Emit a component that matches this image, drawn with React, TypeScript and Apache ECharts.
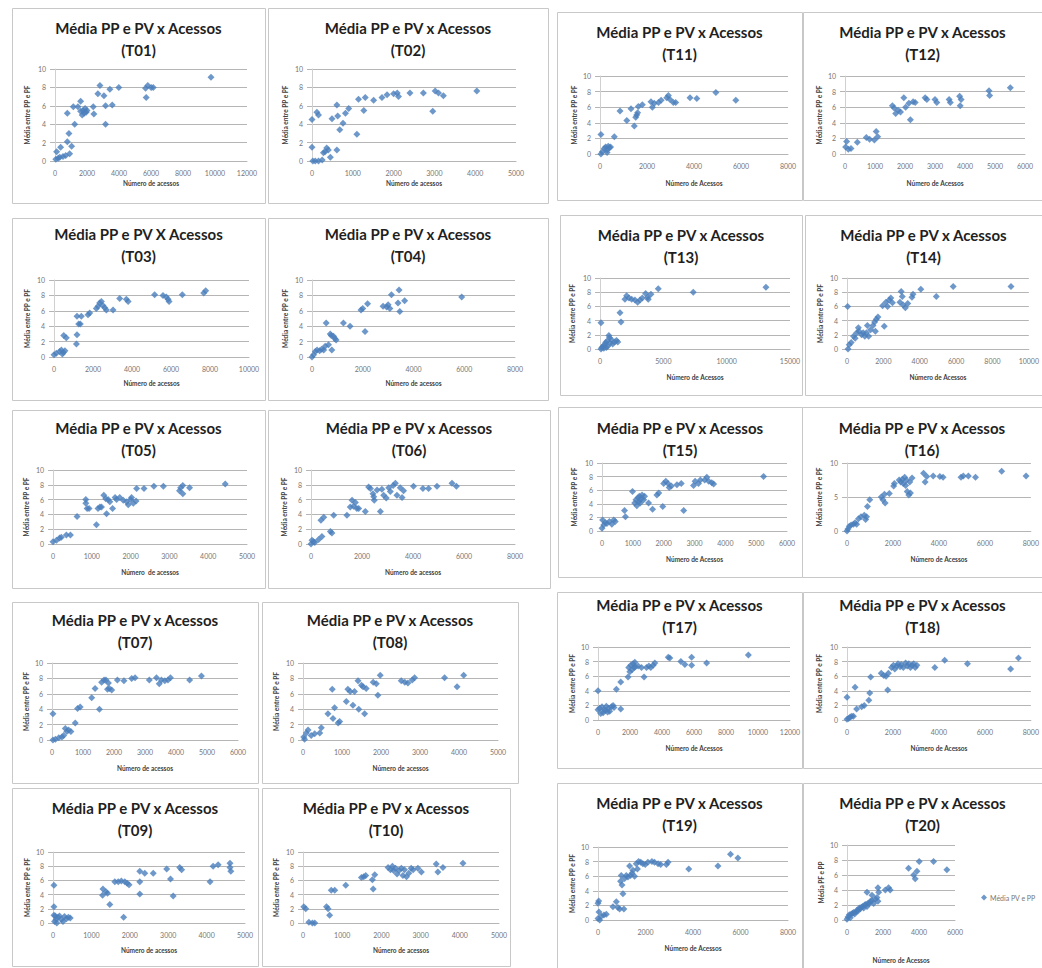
import React, { useEffect, useRef } from 'react';
import * as echarts from 'echarts';

type Pt = [number, number];

// ---- data: (número de acessos, média PP/PV) per turma ----
const t01: Pt[] = [[50,0.2],[100,1.0],[200,0.3],[300,0.4],[350,1.5],[500,0.5],[670,0.6],[770,2.1],[870,3.0],[915,0.8],[1040,1.6],[770,5.2],[1230,4.0],[1145,5.9],[1435,5.9],[1600,6.5],[1600,5.4],[1700,5.0],[1750,5.5],[1820,5.2],[1880,5.7],[1950,5.3],[2000,5.5],[2390,5.9],[2430,5.1],[2680,7.3],[2810,8.2],[3060,7.1],[3160,6.0],[3160,4.0],[3430,7.8],[3580,6.1],[3990,8.0],[5660,7.9],[5700,6.9],[5800,8.2],[6010,8.0],[6140,8.0],[9750,9.1]];
const t02: Pt[] = [[0,4.5],[0,1.5],[20,0],[80,0],[160,0],[250,0.1],[280,0.9],[320,1.0],[360,1.4],[400,1.2],[450,0.4],[120,5.3],[160,5.0],[490,4.6],[610,6.1],[630,4.9],[610,1.2],[680,3.4],[760,4.1],[820,5.2],[900,5.7],[1100,2.9],[1140,6.7],[1270,5.5],[1305,6.9],[1510,6.6],[1715,6.9],[1840,7.2],[2000,7.3],[2090,7.4],[2120,7.0],[2400,7.4],[2730,7.4],[2960,5.4],[3020,7.6],[3100,7.4],[3220,7.1],[4040,7.6]];
const t03: Pt[] = [[0,0.3],[120,0.5],[290,0.7],[380,0.9],[430,0.4],[480,0.6],[560,0.8],[500,2.8],[630,2.5],[1150,1.7],[1180,2.9],[1180,5.3],[1265,4.3],[1350,4.3],[1400,5.3],[1745,5.5],[1830,5.7],[2170,6.3],[2260,6.6],[2340,7.0],[2430,7.2],[2510,6.7],[2600,6.4],[2685,6.1],[3030,6.1],[3370,7.6],[3710,7.5],[3800,7.2],[5160,8.1],[5590,8.0],[5760,7.8],[5850,7.5],[5900,7.2],[6580,8.1],[7680,8.3],[7780,8.6]];
const t04: Pt[] = [[0,0],[65,0.3],[130,0.7],[200,0.9],[300,0.8],[380,1.0],[460,0.9],[520,1.4],[560,4.4],[650,1.6],[720,3.0],[760,2.8],[780,0.9],[850,2.7],[900,2.4],[950,2.2],[1240,4.4],[1500,4.0],[2090,3.3],[1930,6.1],[2000,6.3],[2190,6.9],[2800,6.6],[2940,6.5],[3000,6.8],[3070,6.3],[3130,8.1],[3430,8.7],[3390,7.0],[3460,5.9],[3650,7.3],[5900,7.8]];
const t05: Pt[] = [[0,0.3],[90,0.5],[170,0.8],[215,0.9],[345,1.2],[450,1.2],[620,3.7],[845,5.5],[845,6.0],[880,4.8],[930,4.8],[1120,2.6],[1160,4.8],[1210,5.0],[1250,5.0],[1310,6.6],[1360,6.1],[1380,4.1],[1420,6.0],[1465,5.7],[1535,4.8],[1600,6.3],[1640,6.0],[1720,6.3],[1810,5.9],[1900,5.7],[1940,5.3],[2000,6.0],[2025,6.3],[2070,5.5],[2140,5.8],[2155,7.5],[2345,7.5],[2600,7.8],[2845,7.8],[3260,7.2],[3290,7.6],[3345,7.9],[3345,6.8],[3520,7.6],[4440,8.1]];
const t06: Pt[] = [[0,0],[40,0.5],[100,0.3],[150,0.2],[300,0.6],[390,3.2],[500,3.6],[430,1.0],[760,1.7],[820,1.5],[890,3.9],[1410,3.9],[1540,5.0],[1610,5.9],[1670,5.1],[1740,5.6],[1800,4.8],[1870,4.8],[2130,4.4],[2260,7.7],[2330,7.5],[2430,6.8],[2460,6.4],[2480,5.9],[2590,7.3],[2720,4.4],[2780,7.4],[2850,6.6],[2950,6.2],[3050,7.6],[3110,7.1],[3220,7.9],[3310,8.2],[3370,6.6],[3500,7.6],[3570,6.3],[3630,7.2],[4020,7.8],[4390,7.5],[4610,7.5],[4940,7.8],[5530,8.2],[5700,7.8]];
const t07: Pt[] = [[30,3.4],[30,0],[110,0.1],[220,0.3],[320,0.4],[375,0.6],[430,1.5],[480,1.1],[535,1.3],[610,1.1],[750,2.2],[825,4.1],[910,4.3],[1280,5.5],[1390,6.7],[1530,4.0],[1600,7.5],[1680,7.8],[1740,7.8],[1790,6.6],[1820,7.4],[1850,6.7],[1925,6.5],[2110,7.8],[2320,7.7],[2570,8.0],[2680,8.1],[3140,7.8],[3370,8.1],[3460,7.3],[3530,7.8],[3640,7.7],[3740,7.8],[3820,8.1],[4440,7.8],[4820,8.3]];
const t08: Pt[] = [[20,0.4],[40,0.1],[85,0.9],[130,1.3],[210,0.6],[300,0.8],[430,0.9],[470,1.6],[640,3.4],[750,6.6],[770,2.8],[810,4.2],[900,2.2],[940,2.4],[1110,5.0],[1150,6.6],[1210,6.3],[1280,4.5],[1320,6.3],[1410,7.7],[1430,4.0],[1500,7.1],[1540,6.9],[1580,3.4],[1620,6.7],[1800,7.5],[1880,7.3],[1920,5.8],[1980,8.4],[2520,7.7],[2610,7.5],[2690,7.4],[2800,7.8],[2860,8.1],[3630,8.1],[3950,6.9],[4120,8.4]];
const t09: Pt[] = [[25,5.3],[25,2.3],[25,1.1],[40,0.2],[60,1.0],[80,0.5],[100,0.0],[130,0.8],[170,1.0],[220,0.5],[260,0.2],[300,0.9],[350,0.6],[400,0.8],[450,0.7],[1290,3.9],[1300,4.8],[1380,4.4],[1420,4.2],[1480,2.6],[1610,5.8],[1700,5.8],[1780,5.9],[1840,0.8],[1870,5.8],[1930,5.6],[1980,5.4],[2260,7.3],[2260,5.8],[2260,4.1],[2390,7.0],[2610,7.0],[2960,7.6],[3060,6.2],[3130,3.8],[3300,7.8],[3350,7.5],[4090,5.8],[4170,8.0],[4300,8.2],[4610,8.4],[4610,7.8],[4630,7.3]];
const t10: Pt[] = [[20,2.3],[70,2.0],[150,0.1],[240,0],[300,0],[600,2.3],[640,2.0],[680,1.1],[720,4.6],[810,4.6],[1090,5.3],[1490,6.4],[1550,6.5],[1600,6.7],[1770,6.1],[1790,4.8],[1830,6.8],[2170,7.8],[2230,7.5],[2280,8.0],[2310,7.4],[2360,7.7],[2400,6.9],[2450,7.4],[2510,7.7],[2550,6.7],[2590,7.5],[2640,6.5],[2700,7.0],[2760,7.7],[2810,7.5],[2930,7.7],[3020,7.2],[3400,8.3],[3440,7.2],[3570,7.8],[4080,8.4]];
const t11: Pt[] = [[40,2.5],[40,0],[100,0.3],[180,0.7],[240,0.9],[300,0.5],[300,0.2],[350,1.0],[400,0.8],[450,0.9],[610,2.2],[850,5.5],[1140,4.3],[1320,5.8],[1460,3.6],[1520,4.7],[1560,5.0],[1600,5.3],[1630,6.1],[1800,6.3],[2170,6.7],[2230,6.0],[2310,6.5],[2490,6.6],[2600,6.9],[2840,7.2],[2910,7.5],[2980,7.0],[3120,6.6],[3220,6.6],[3830,7.2],[4120,7.1],[4930,7.9],[5780,6.9]];
const t12: Pt[] = [[20,0.9],[55,1.6],[110,0.6],[200,0.7],[410,1.5],[710,2.1],[820,1.9],[980,1.8],[1040,2.9],[1090,2.2],[1580,6.2],[1640,5.9],[1690,5.2],[1770,5.6],[1850,5.4],[1960,7.2],[2020,6.0],[2130,6.5],[2180,4.4],[2270,6.7],[2340,6.6],[2670,7.2],[2730,7.0],[3000,7.0],[3060,6.6],[3470,7.0],[3510,6.6],[3820,7.4],[3840,6.2],[3870,7.0],[4800,8.1],[4820,7.5],[5510,8.5]];
const t13: Pt[] = [[80,3.7],[80,0],[150,0.2],[250,0.4],[300,0.1],[350,0.6],[450,0.9],[500,0.2],[550,1.1],[600,0.4],[700,1.9],[750,1.6],[800,0.8],[900,1.3],[1000,0.7],[1150,1.0],[1300,1.2],[1400,1.0],[1580,5.1],[1660,3.8],[1970,7.0],[2100,7.5],[2290,7.2],[2500,7.0],[2760,6.9],[2970,6.6],[3160,6.9],[3340,7.2],[3600,7.8],[3760,7.3],[3810,7.0],[4020,7.7],[4600,8.5],[7360,8.0],[13100,8.7]];
const t14: Pt[] = [[35,6.0],[55,0],[125,0.6],[230,0.9],[360,1.8],[450,1.5],[535,2.3],[625,3.0],[660,2.5],[800,2.0],[890,2.3],[980,1.8],[1070,2.3],[1120,3.3],[1190,1.8],[1300,2.7],[1430,3.3],[1520,3.8],[1560,2.5],[1610,4.2],[1700,4.5],[1960,6.1],[2050,3.2],[2140,6.6],[2230,6.0],[2320,6.9],[2410,7.2],[2500,6.5],[2910,6.6],[2980,8.1],[3040,7.4],[3090,6.2],[3210,5.8],[3340,6.4],[3570,7.3],[3630,7.7],[4060,8.4],[4910,7.4],[5840,8.8],[9020,8.8]];
const t15: Pt[] = [[0,0.4],[20,1.6],[55,0.9],[110,1.2],[160,1.1],[240,1.4],[320,1.0],[380,1.6],[430,1.4],[730,3.0],[760,2.1],[990,5.8],[1060,4.1],[1100,4.6],[1130,3.7],[1170,4.9],[1190,4.3],[1210,5.1],[1240,4.1],[1270,4.7],[1300,5.3],[1350,4.6],[1380,5.1],[1510,4.1],[1640,3.2],[1780,5.3],[1840,5.6],[1970,3.6],[2000,7.0],[2070,7.3],[2140,7.0],[2180,6.4],[2250,6.6],[2430,6.8],[2570,7.0],[2650,3.0],[2970,6.7],[3020,7.3],[3130,7.0],[3190,7.5],[3330,7.5],[3400,7.9],[3460,7.3],[3560,7.1],[3620,6.9],[5240,8.0]];
const t16: Pt[] = [[0,0],[40,0.3],[100,0.7],[180,0.9],[280,1.0],[350,1.2],[420,1.0],[500,1.8],[610,2.1],[750,2.3],[810,1.7],[850,2.1],[890,3.6],[990,4.6],[1490,5.0],[1560,4.6],[1630,5.4],[1660,4.1],[1840,5.5],[2030,6.6],[2060,7.0],[2270,7.5],[2340,7.2],[2410,7.6],[2450,7.0],[2510,7.9],[2550,6.7],[2590,7.5],[2620,5.8],[2690,5.3],[2730,7.2],[2760,5.6],[2830,7.8],[3330,8.5],[3400,7.2],[3470,8.0],[3750,8.1],[4040,8.0],[4180,7.9],[4960,7.9],[5060,8.1],[5280,8.1],[5590,7.9],[6730,8.8],[7790,8.1]];
const t17: Pt[] = [[0,4.0],[0,1.4],[100,1.6],[170,0.9],[250,1.8],[320,1.0],[380,1.4],[460,1.3],[520,1.9],[600,1.1],[660,1.6],[730,1.2],[840,1.8],[940,2.0],[1000,1.7],[1150,4.2],[1420,5.2],[1420,1.5],[1880,5.9],[1920,7.2],[1990,6.6],[2050,7.5],[2130,6.9],[2190,7.7],[2260,7.2],[2300,7.9],[2340,7.3],[2510,7.4],[2720,7.2],[2880,5.9],[3030,7.2],[3180,7.4],[3300,7.2],[3450,7.5],[3550,7.8],[4390,8.6],[4490,8.5],[5180,8.0],[5430,7.6],[5850,8.6],[5850,7.5],[6790,7.8],[9400,8.9]];
const t18: Pt[] = [[0,3.1],[0,0.1],[70,0.2],[140,0.4],[210,0.5],[280,0.5],[350,4.5],[420,1.5],[640,1.8],[750,2.0],[950,2.7],[990,3.7],[1030,5.9],[1490,6.4],[1600,6.1],[1700,6.0],[1770,4.1],[1800,6.4],[1940,7.2],[2020,7.5],[2080,7.0],[2170,7.4],[2220,7.7],[2310,7.3],[2360,7.6],[2450,7.2],[2550,7.8],[2620,7.4],[2690,7.7],[2760,7.2],[2830,7.5],[2900,7.7],[2970,7.2],[3040,7.5],[3820,7.2],[4250,8.2],[5240,7.7],[7120,7.0],[7460,8.5]];
const t19: Pt[] = [[0,2.3],[0,0.2],[30,2.6],[40,1.1],[70,0],[140,0.5],[250,0.7],[350,0.8],[630,1.8],[770,2.5],[840,1.7],[910,1.5],[950,5.3],[980,6.1],[1010,4.8],[1050,3.6],[1090,1.5],[1120,5.7],[1190,6.1],[1260,5.9],[1330,7.4],[1370,6.1],[1430,6.4],[1470,6.8],[1540,6.0],[1610,7.7],[1660,7.0],[1710,8.0],[1800,7.9],[1890,7.7],[1990,7.6],[2100,7.9],[2270,8.0],[2380,7.9],[2530,7.7],[2640,7.6],[2880,7.6],[2950,7.9],[3820,7.0],[5050,7.4],[5580,9.0],[5890,8.5]];
const t20: Pt[] = [[0,0.1],[55,0.4],[130,0.7],[185,0.3],[240,0.8],[315,0.9],[370,1.0],[425,0.8],[500,1.1],[555,1.3],[610,1.2],[685,1.6],[740,1.5],[795,1.7],[870,1.8],[925,1.6],[980,2.0],[1055,2.1],[1110,1.8],[1110,3.7],[1165,2.2],[1240,2.2],[1295,2.5],[1390,2.6],[1390,3.3],[1480,2.2],[1570,2.8],[1665,3.0],[1720,2.5],[1720,4.3],[1760,3.7],[2130,4.0],[2310,4.3],[2400,4.0],[3420,6.9],[3700,6.0],[3790,5.5],[3885,6.5],[4010,7.8],[4810,7.8],[5550,6.7]];

const panelSeries: Pt[][] = [t01, t02, t03, t04, t05, t06, t07, t08, t09, t10, t11, t12, t13, t14, t15, t16, t17, t18, t19, t20];
const panelCodes = ['T01', 'T02', 'T03', 'T04', 'T05', 'T06', 'T07', 'T08', 'T09', 'T10', 'T11', 'T12', 'T13', 'T14', 'T15', 'T16', 'T17', 'T18', 'T19', 'T20'];
const chartTitles = ['Média PP e PV x Acessos', 'Média PP e PV x Acessos', 'Média PP e PV X Acessos', 'Média PP e PV x Acessos', 'Média PP e PV x Acessos', 'Média PP e PV x Acessos', 'Média PP e PV x Acessos', 'Média PP e PV x Acessos', 'Média PP e PV x Acessos', 'Média PP e PV x Acessos', 'Média PP e PV x Acessos', 'Média PP e PV x Acessos', 'Média PP e PV x Acessos', 'Média PP e PV x Acessos', 'Média PP e PV x Acessos', 'Média PP e PV x Acessos', 'Média PP e PV x Acessos', 'Média PP e PV x Acessos', 'Média PP e PV x Acessos', 'Média PP e PV x Acessos'];
const xTitles = ['Número de acessos', 'Número de acessos', 'Número de acessos', 'Número de acessos', 'Número  de acessos', 'Número de acessos', 'Número de acessos', 'Número de acessos', 'Número de acessos', 'Número de acessos', 'Número de Acessos', 'Número de Acessos', 'Número de Acessos', 'Número de Acessos', 'Número de Acessos', 'Número de Acessos', 'Número de Acessos', 'Número de Acessos', 'Número de Acessos', 'Número de Acessos'];
const yTitles = ['Média entre PP e PF', 'Média entre PP e PF', 'Média entre PP e PF', 'Média entre PP e PF', 'Média entre PP e PF', 'Média entre PP e PF', 'Média entre PP e PF', 'Média entre PP e PF', 'Média entre PP e PF', 'Média entre PP e PF', 'Média entre PP e PF', 'Média entre PP e PF', 'Média entre PP e PF', 'Média entre PP e PF', 'Média entre PP e PF', 'Média entre PP e PF', 'Média entre PP e PF', 'Média entre PP e PF', 'Média entre PP e PF', 'Média PF e PP'];
const xMaxima = [12000, 5000, 10000, 8000, 5000, 8000, 6000, 5000, 5000, 5000, 8000, 6000, 15000, 10000, 6000, 8000, 12000, 8000, 8000, 6000];
const xSteps = [2000, 1000, 2000, 2000, 1000, 2000, 1000, 1000, 1000, 1000, 2000, 1000, 5000, 2000, 1000, 2000, 2000, 2000, 2000, 2000];
const yMaxima = [10, 10, 10, 10, 10, 10, 10, 10, 10, 10, 10, 10, 10, 10, 10, 10, 10, 10, 10, 10];
const ySteps = [2, 2, 2, 2, 2, 2, 2, 2, 2, 2, 2, 2, 2, 2, 2, 5, 2, 2, 2, 2];
const legendLabel = 'Média PV e PP';

// ---- page layout of each small chart (pixels) ----
interface PanelLayout { box: number[]; plot: number[]; titleY: number; xNameY: number; yNameX: number; }
const layout: PanelLayout[] = [
  { box: [12, 8, 253, 195], plot: [55, 69, 247, 161], titleY: 28, xNameY: 183, yNameX: 28 },
  { box: [268, 8, 280, 195], plot: [312, 69, 516, 161], titleY: 28, xNameY: 183, yNameX: 286 },
  { box: [12, 218, 253, 182], plot: [54, 280, 249, 357], titleY: 234, xNameY: 383, yNameX: 28 },
  { box: [268, 218, 280, 182], plot: [312, 280, 515, 357], titleY: 234, xNameY: 383, yNameX: 286 },
  { box: [12, 410, 253, 178], plot: [53, 470, 247, 544], titleY: 428, xNameY: 572, yNameX: 27 },
  { box: [268, 410, 282, 178], plot: [311, 470, 515, 544], titleY: 428, xNameY: 572, yNameX: 285 },
  { box: [12, 602, 246, 181], plot: [52, 663, 238, 740], titleY: 620, xNameY: 768, yNameX: 27 },
  { box: [262, 602, 256, 181], plot: [303, 663, 498, 740], titleY: 620, xNameY: 768, yNameX: 277 },
  { box: [12, 788, 246, 178], plot: [53, 852, 245, 923], titleY: 808, xNameY: 950, yNameX: 28 },
  { box: [262, 788, 248, 178], plot: [303, 852, 499, 923], titleY: 808, xNameY: 950, yNameX: 277 },
  { box: [557, 12, 245, 188], plot: [600, 76, 788, 154], titleY: 32, xNameY: 183, yNameX: 575 },
  { box: [803, 12, 239, 188], plot: [845, 76, 1025, 154], titleY: 32, xNameY: 183, yNameX: 820 },
  { box: [560, 215, 242, 180], plot: [600, 278, 790, 349], titleY: 235, xNameY: 377, yNameX: 573 },
  { box: [805, 215, 237, 180], plot: [847, 278, 1033, 349], titleY: 235, xNameY: 377, yNameX: 821 },
  { box: [558, 407, 244, 170], plot: [602, 463, 787, 531], titleY: 428, xNameY: 559, yNameX: 575 },
  { box: [802, 407, 240, 170], plot: [847, 463, 1035, 531], titleY: 428, xNameY: 559, yNameX: 820 },
  { box: [557, 592, 245, 176], plot: [598, 647, 790, 720], titleY: 605, xNameY: 748, yNameX: 573 },
  { box: [803, 592, 239, 176], plot: [847, 647, 1035, 720], titleY: 605, xNameY: 748, yNameX: 820 },
  { box: [557, 783, 245, 185], plot: [598, 847, 788, 920], titleY: 803, xNameY: 948, yNameX: 573 },
  { box: [803, 783, 239, 185], plot: [847, 845, 955, 920], titleY: 803, xNameY: 960, yNameX: 822 },
];

const FONT = 'Lato, "Open Sans", "DejaVu Sans", sans-serif';
const MARKER = '#4a7ebb';
const GRID_LINE = '#b5b5b5';
const TICK_TEXT = '#767676';
const AXIS_TITLE = '#404040';

export default function App() {
  const ref = useRef<HTMLDivElement>(null);

  useEffect(() => {
    if (!ref.current) return;
    const chart = echarts.init(ref.current, null, { renderer: 'svg', width: 1042, height: 968 });

    const grid: any[] = [];
    const xAxis: any[] = [];
    const yAxis: any[] = [];
    const series: any[] = [];
    const graphic: any[] = [];

    layout.forEach((p, i) => {
      const [x0, yTop, x1, yBottom] = p.plot;
      const [bx, by, bw, bh] = p.box;
      const cx = bx + bw / 2;

      // frame and two-line title of each small chart
      graphic.push({
        type: 'rect', silent: true, z: -10,
        shape: { x: bx + 0.5, y: by + 0.5, width: bw, height: bh },
        style: { fill: '#ffffff', stroke: '#c8c8c8', lineWidth: 1 },
      });
      graphic.push({
        type: 'text', silent: true, x: cx, y: p.titleY,
        style: { text: chartTitles[i], fontSize: 15, fontWeight: 'bold', fontFamily: FONT, fill: '#1f1f1f', align: 'center', verticalAlign: 'middle' },
      });
      graphic.push({
        type: 'text', silent: true, x: cx, y: p.titleY + 22,
        style: { text: '(' + panelCodes[i] + ')', fontSize: 15, fontWeight: 'bold', fontFamily: FONT, fill: '#1f1f1f', align: 'center', verticalAlign: 'middle' },
      });

      grid.push({ left: x0, top: yTop, width: x1 - x0, height: yBottom - yTop });

      xAxis.push({
        type: 'value', gridIndex: i, min: 0, max: xMaxima[i], interval: xSteps[i],
        name: xTitles[i], nameLocation: 'middle', nameGap: p.xNameY - yBottom - 3,
        nameTextStyle: { fontSize: 6.5, fontWeight: 'bold', color: AXIS_TITLE, fontFamily: FONT },
        axisLine: { show: true, lineStyle: { color: GRID_LINE, width: 1 } },
        axisTick: { show: false },
        splitLine: { show: false },
        axisLabel: {
          fontSize: 7, color: TICK_TEXT, margin: 8, fontFamily: FONT,
          showMaxLabel: true, showMinLabel: true,
          formatter: (v: number) => String(v),
        },
      });

      yAxis.push({
        type: 'value', gridIndex: i, min: 0, max: yMaxima[i], interval: ySteps[i],
        name: yTitles[i], nameLocation: 'middle', nameRotate: 90, nameGap: x0 - p.yNameX - 3,
        nameTextStyle: { fontSize: 6.5, fontWeight: 'bold', color: AXIS_TITLE, fontFamily: FONT },
        axisLine: { show: true, lineStyle: { color: '#d0d0d0', width: 1 } },
        axisTick: { show: true, length: 5, lineStyle: { color: GRID_LINE } },
        splitLine: { show: true, lineStyle: { color: GRID_LINE, width: 1 } },
        axisLabel: { fontSize: 7, color: TICK_TEXT, margin: 9, fontFamily: FONT, formatter: (v: number) => String(v) },
      });

      series.push({
        type: 'scatter', name: legendLabel, xAxisIndex: i, yAxisIndex: i,
        data: panelSeries[i], symbol: 'diamond', symbolSize: 7,
        itemStyle: { color: MARKER },
      });
    });

    chart.setOption({
      animation: false,
      backgroundColor: '#ffffff',
      textStyle: { fontFamily: FONT },
      graphic,
      grid,
      xAxis,
      yAxis,
      series,
      legend: {
        show: true, left: 981, top: 894, padding: 0, selectedMode: false,
        data: [{ name: legendLabel, icon: 'diamond' }],
        itemWidth: 6, itemHeight: 6, itemGap: 4,
        textStyle: { fontSize: 7, color: TICK_TEXT, fontFamily: FONT, padding: [0, 0, 0, -2] },
      },
    });

    return () => chart.dispose();
  }, []);

  return (
    <div
      ref={ref}
      style={{ position: 'absolute', left: 0, top: 0, width: 1042, height: 968, background: '#ffffff' }}
    />
  );
}
